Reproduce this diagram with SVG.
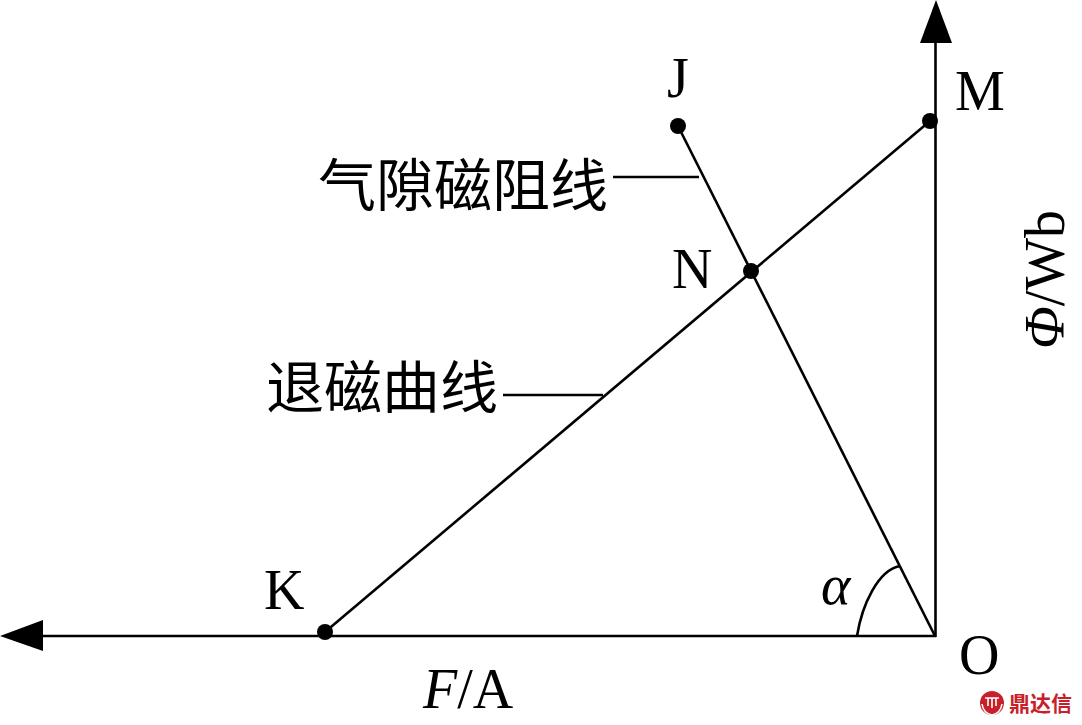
<svg xmlns="http://www.w3.org/2000/svg" width="1082" height="725" viewBox="0 0 1082 725">
<style>
.l{fill:none;stroke:#000;stroke-width:2.6}
.t{font-family:"Liberation Serif",serif;font-size:56px;fill:#000}
.c{font-family:"Noto Sans CJK SC","Liberation Serif",serif;font-size:57px;fill:#000}
.d{fill:#000}
.w{fill:none;stroke:#fff;stroke-width:1.6}
</style>
<rect width="1082" height="725" fill="#fff"/>
<g id="connectors">
<path class="l" d="M935.500 637V40"/>
<path class="l" d="M936 636H40"/>
<path class="d" d="M936 0L952 43H920Z"/>
<path class="d" d="M0 636L43 620V651Z"/>
<path class="l" d="M325 632L930 121"/>
<path class="l" d="M678 126L935 636"/>
<path class="l" d="M613 177H699"/>
<path class="l" d="M503 395H603"/>
<path class="l" d="M857 636C862 605 878 570 900 566"/>
</g>
<g id="J"><circle class="d" cx="678" cy="126" r="8"/><text class="t" x="667" y="97">J</text></g>
<g id="M"><circle class="d" cx="930" cy="121" r="8"/><text class="t" x="955" y="110">M</text></g>
<g id="N"><circle class="d" cx="751" cy="271" r="8"/><text class="t" x="672" y="288">N</text></g>
<g id="K"><circle class="d" cx="325" cy="632" r="8"/><text class="t" x="264" y="609">K</text></g>
<g id="O"><text class="t" x="959" y="674">O</text></g>
<g id="alpha"><text class="t" x="821" y="604" font-style="italic">α</text></g>
<g id="xlabel"><text class="t" x="423" y="708"><tspan font-style="italic">F</tspan>/A</text></g>
<g id="ylabel"><text class="t" transform="translate(1064 349) rotate(-90)"><tspan font-style="italic">Φ</tspan>/Wb</text></g>
<g id="air"><text class="c" x="318" y="206" textLength="290" lengthAdjust="spacingAndGlyphs">气隙磁阻线</text></g>
<g id="demag"><text class="c" x="266" y="408" textLength="232" lengthAdjust="spacingAndGlyphs">退磁曲线</text></g>
<g id="logo">
<circle cx="992" cy="703" r="12" fill="#c8202a"/>
<path class="w" d="M985 698H999M988 698V706M996 698V706M992 698V708M982 704C983 711 987 714 992 715C997 714 1001 711 1002 704"/>
<text x="1009" y="711" font-family="Noto Sans CJK SC,sans-serif" font-size="21" font-weight="700" fill="#c8202a">鼎达信</text>
</g>
</svg>
